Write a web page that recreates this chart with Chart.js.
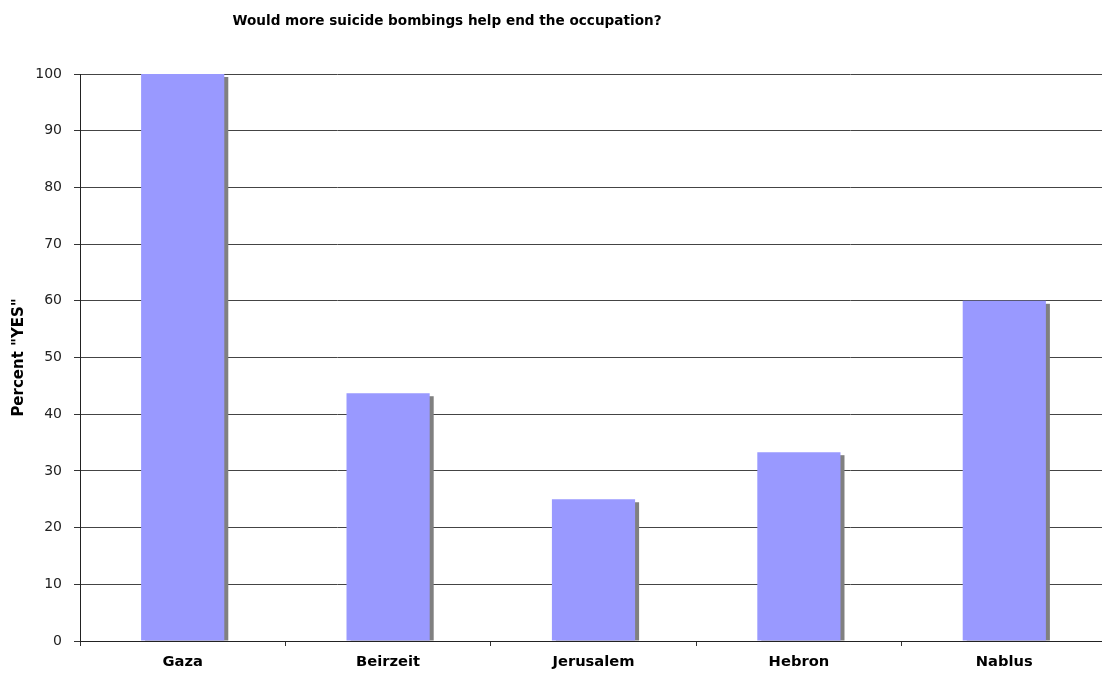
<!DOCTYPE html>
<html>
<head>
<meta charset="utf-8">
<script src="https://cdn.jsdelivr.net/npm/chart.js@4.4.0/dist/chart.umd.min.js"></script>
<style>
  html, body { margin: 0; padding: 0; background: #fff; overflow: hidden; }
  #wrap { position: relative; width: 1110px; height: 675px; }
</style>
</head>
<body>
<div id="wrap"><canvas id="c"></canvas></div>
<script>
// survey: share answering "yes", by town
const TITLE = "Would more suicide bombings help end the occupation?";
const AXIS_TITLE = 'Percent "YES"';
const towns = ["Gaza", "Beirzeit", "Jerusalem", "Hebron", "Nablus"];
const percentYes = [100, 43.7, 25, 33.3, 60];
const yTicks = [0, 10, 20, 30, 40, 50, 60, 70, 80, 90, 100];

const FONT = '"DejaVu Sans", Verdana, sans-serif';
const BAR = "#9999ff", SHADOW = "#808080";

// grey drop shadow behind each bar, offset right/down
const barShadow = {
  id: "barShadow",
  beforeDatasetsDraw(chart) {
    const ctx = chart.ctx, area = chart.chartArea;
    ctx.save();
    ctx.beginPath();
    ctx.rect(area.left, area.top, area.right - area.left, area.bottom - area.top);
    ctx.clip();
    ctx.fillStyle = SHADOW;
    chart.getDatasetMeta(0).data.forEach(b => {
      const p = b.getProps(["x", "y", "base", "width"], true);
      ctx.fillRect(p.x - p.width / 2 + 4, p.y + 3, p.width, p.base - p.y - 3);
    });
    ctx.restore();
  },
};

// chart heading
const heading = {
  id: "heading",
  afterDraw(chart) {
    const ctx = chart.ctx;
    ctx.save();
    ctx.font = "bold 13.6px " + FONT;
    ctx.fillStyle = "#000";
    ctx.textAlign = "center";
    ctx.textBaseline = "middle";
    ctx.fillText(TITLE, 447, 21);
    ctx.restore();
  },
};

new Chart(document.getElementById("c"), {
  type: "bar",
  data: {
    labels: towns,
    datasets: [{
      data: percentYes,
      backgroundColor: BAR,
      borderWidth: 0,
      categoryPercentage: 1,
      barPercentage: 0.405,
    }],
  },
  options: {
    responsive: true, maintainAspectRatio: false, animation: false,
    layout: { padding: { top: 74, right: 3, left: 0, bottom: 0 } },
    plugins: { legend: { display: false }, tooltip: { enabled: false }, title: { display: false } },
    scales: {
      y: {
        min: 0, max: 100,
        afterFit: s => { s.width = 80; },
        afterBuildTicks: s => { s.ticks = yTicks.map(v => ({ value: v })); },
        grid: { color: "#444", lineWidth: 1, tickLength: 6, tickColor: "#333" },
        border: { color: "#222", width: 1 },
        ticks: { color: "#222", padding: 12, font: { family: FONT, size: 14 } },
        title: { display: true, text: AXIS_TITLE, color: "#000", padding: { top: 10, bottom: 0 },
                 font: { family: FONT, size: 15, weight: "bold" } },
      },
      x: {
        afterFit: s => { s.height = 34; },
        grid: { drawOnChartArea: false, tickLength: 5, tickColor: "#333" },
        border: { color: "#222", width: 1 },
        ticks: { color: "#000", padding: 7, font: { family: FONT, size: 14.7, weight: "bold" } },
      },
    },
  },
  plugins: [barShadow, heading],
});
</script>
</body>
</html>
